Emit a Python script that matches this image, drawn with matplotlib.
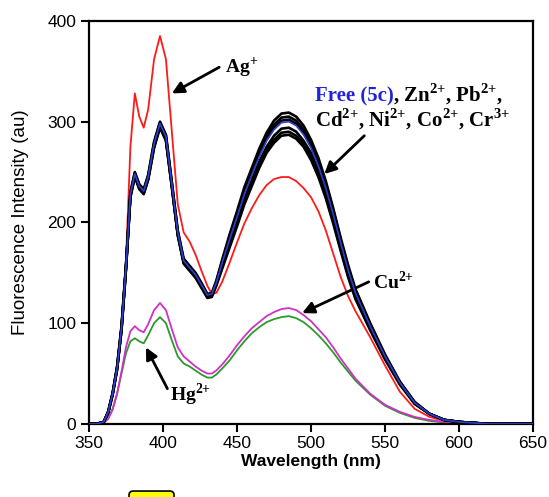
import matplotlib
matplotlib.use("Agg")
import matplotlib.pyplot as plt
from matplotlib.patches import FancyBboxPatch

plt.rcParams["font.family"] = ["Liberation Sans", "DejaVu Sans"]
plt.rcParams["mathtext.fontset"] = "custom"
plt.rcParams["mathtext.rm"] = "Liberation Serif:bold"
plt.rcParams["mathtext.bf"] = "Liberation Serif:bold"

# wavelength grid (nm)
wl = [350, 355, 360, 363, 366, 369, 372, 375, 378, 381, 384, 387, 390, 394, 398,
      402, 406, 410, 414, 418, 422, 426, 430, 433, 436, 440, 445, 450, 455, 460,
      465, 470, 475, 480, 485, 490, 495, 500, 505, 510, 515, 520, 525, 530, 540,
      550, 560, 570, 580, 590, 600, 610, 620, 635, 650]

# emission spectra (au)
free_5c = [0, 0, 2, 12, 30, 55, 95, 155, 228, 248, 236, 231, 245, 278, 298,
           285, 238, 190, 162, 155, 148, 138, 128, 129, 140, 160, 183, 205, 228, 247,
           265, 281, 292, 299, 300, 296, 287, 274, 256, 234, 208, 180, 153, 130, 97,
           67, 41, 21, 10, 4, 2, 1, 0, 0, 0]
zn = [0, 0, 2, 12, 31, 57, 97, 157, 230, 250, 238, 233, 247, 280, 300,
      287, 240, 192, 164, 157, 150, 140, 129, 130, 142, 163, 188, 211, 235, 254,
      273, 289, 301, 308, 309, 305, 296, 282, 264, 241, 214, 185, 158, 134, 100,
      69, 42, 22, 10, 4, 2, 1, 0, 0, 0]
pb = [0, 0, 2, 11, 29, 54, 94, 154, 226, 247, 235, 230, 244, 277, 297,
      284, 237, 189, 161, 154, 147, 137, 127, 128, 139, 161, 186, 208, 232, 251,
      269, 286, 297, 304, 305, 301, 292, 279, 260, 238, 212, 183, 156, 132, 99,
      68, 42, 21, 10, 4, 2, 1, 0, 0, 0]
cd = [0, 0, 2, 12, 30, 55, 95, 155, 227, 247, 235, 230, 244, 276, 296,
      283, 236, 188, 161, 154, 147, 137, 127, 128, 139, 158, 179, 201, 223, 242,
      260, 275, 286, 293, 294, 290, 281, 269, 251, 229, 204, 176, 150, 127, 95,
      66, 40, 21, 10, 4, 2, 1, 0, 0, 0]
ni = [0, 0, 2, 12, 30, 55, 94, 154, 226, 246, 234, 229, 243, 275, 295,
      282, 236, 188, 160, 153, 146, 136, 126, 127, 138, 156, 177, 198, 220, 239,
      256, 272, 282, 289, 290, 286, 278, 265, 248, 226, 201, 174, 148, 126, 94,
      65, 40, 20, 10, 4, 2, 1, 0, 0, 0]
co = [0, 0, 2, 11, 29, 54, 93, 153, 225, 245, 233, 228, 242, 274, 294,
      281, 235, 187, 159, 152, 145, 135, 125, 126, 137, 154, 175, 196, 218, 236,
      254, 269, 279, 286, 287, 283, 275, 262, 245, 224, 199, 172, 146, 124, 93,
      64, 39, 20, 10, 4, 2, 1, 0, 0, 0]
cr = [0, 0, 2, 12, 30, 56, 96, 156, 229, 249, 237, 232, 246, 279, 299,
      286, 239, 191, 163, 156, 149, 139, 128, 129, 141, 161, 184, 206, 230, 249,
      267, 283, 294, 301, 302, 298, 289, 276, 258, 236, 209, 181, 154, 131, 98,
      67, 41, 21, 10, 4, 2, 1, 0, 0, 0]
ag = [0, 0, 2, 12, 30, 56, 97, 160, 275, 328, 305, 294, 312, 362, 385,
      362, 290, 218, 190, 181, 168, 152, 137, 129, 130, 141, 160, 180, 199, 214,
      227, 237, 243, 245, 245, 241, 234, 225, 211, 192, 169, 146, 127, 112, 86,
      58, 32, 15, 7, 3, 1, 0, 0, 0, 0]
cu = [0, 0, 1, 5, 14, 30, 52, 76, 92, 97, 93, 91, 99, 113, 120,
      113, 94, 76, 67, 62, 57, 53, 50, 50, 53, 59, 68, 78, 87, 95,
      101, 107, 111, 114, 115, 113, 108, 102, 94, 86, 76, 65, 55, 45, 30,
      19, 12, 7, 4, 2, 1, 0, 0, 0, 0]
hg = [0, 0, 1, 6, 15, 30, 50, 70, 82, 85, 82, 80, 88, 100, 106,
      100, 83, 67, 60, 57, 53, 49, 46, 46, 49, 55, 63, 73, 82, 90,
      96, 101, 104, 106, 107, 105, 101, 95, 88, 80, 71, 61, 52, 43, 29,
      18, 11, 6, 3, 1.5, 0.5, 0, 0, 0, 0]

black_series = [zn, pb, cd, ni, co, cr]

fig = plt.figure(figsize=(5.49, 4.97), dpi=100)
ax = fig.add_axes([0.162, 0.147, 0.809, 0.811])

ax.plot(wl, ag, color="#ff1a1a", lw=1.3, zorder=2)
ax.plot(wl, hg, color="#2a9a2a", lw=1.3, zorder=2)
ax.plot(wl, cu, color="#d030c8", lw=1.3, zorder=2)
for s in black_series:
    ax.plot(wl, s, color="black", lw=1.9, zorder=3)
ax.plot(wl, free_5c, color="#2c3fd0", lw=1.2, zorder=4)

ax.set_xlim(350, 650)
ax.set_ylim(0, 400)
ax.set_xticks(range(350, 651, 50))
ax.set_yticks(range(0, 401, 100))
ax.tick_params(direction="out", length=6, width=1.5, labelsize=12.5, pad=3)
for sp in ax.spines.values():
    sp.set_linewidth(1.6)

ax.set_xlabel("Wavelength (nm)", fontsize=12.5, fontweight="bold", labelpad=2)
ax.set_ylabel("Fluorescence Intensity (au)", fontsize=13.5, labelpad=13)

serif = dict(family=["Liberation Serif", "DejaVu Serif"], fontweight="bold", fontsize=14)
serif_big = dict(serif, fontsize=15)
arrow = dict(arrowstyle="-|>,head_length=0.7,head_width=0.35", color="black", lw=2,
             shrinkA=0, shrinkB=0)

# Ag+
ax.annotate("", xy=(406, 328), xytext=(438, 354), arrowprops=arrow)
ax.text(442, 354, r"Ag$^{\mathbf{{+}}}$", va="center", ha="left", **serif)

# free ligand and non-responding ions
t1 = ax.text(502.5, 320, "Free (5c)", va="baseline", ha="left", color="#2323d8", **serif_big)
fig.canvas.draw()
bb = t1.get_window_extent(renderer=fig.canvas.get_renderer())
x_end = ax.transData.inverted().transform((bb.x1, bb.y0))[0]
ax.text(x_end, 320, r", Zn$^{\mathbf{2{+}}}$, Pb$^{\mathbf{2{+}}}$,", va="baseline", ha="left", **serif_big)
ax.text(502.5, 295, r"Cd$^{\mathbf{2{+}}}$, Ni$^{\mathbf{2{+}}}$, Co$^{\mathbf{2{+}}}$, Cr$^{\mathbf{3{+}}}$",
        va="baseline", ha="left", **serif_big)
ax.annotate("", xy=(509, 248), xytext=(536, 286), arrowprops=arrow)

# Cu2+
ax.annotate("", xy=(494, 110), xytext=(539, 141), arrowprops=arrow)
ax.text(542, 141, r"Cu$^{\mathbf{2{+}}}$", va="center", ha="left", **serif)

# Hg2+
ax.annotate("", xy=(388.5, 76), xytext=(403, 35), arrowprops=arrow)
ax.text(405, 29, r"Hg$^{\mathbf{2{+}}}$", va="center", ha="left", **serif)

# yellow box peeking in at the bottom edge
box = FancyBboxPatch((0.235, -0.06), 0.082, 0.072, boxstyle="round,pad=0,rounding_size=0.008",
                     transform=fig.transFigure, facecolor="#ffff00", edgecolor="black",
                     lw=1.2, clip_on=False)
fig.patches.append(box)

fig.savefig("out.png", dpi=100)
